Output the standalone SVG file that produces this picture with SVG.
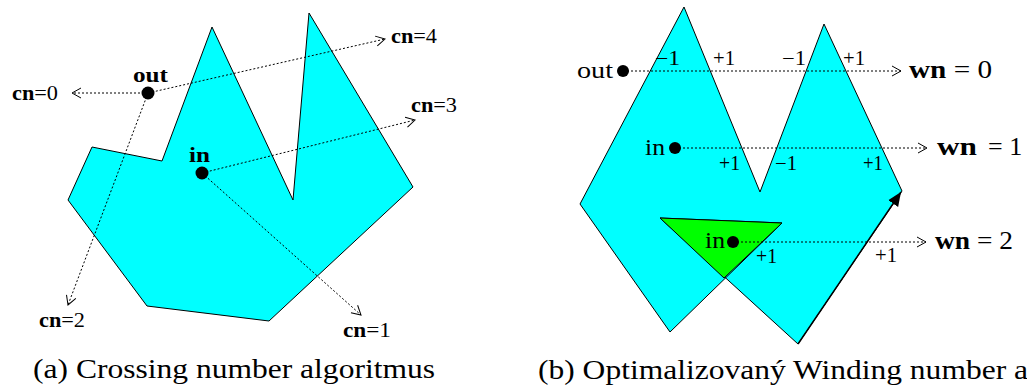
<svg xmlns="http://www.w3.org/2000/svg" width="1027" height="391" viewBox="0 0 1027 391" font-family="'Liberation Serif', serif">
<style>
.poly{fill:#00ffff;stroke:#000;stroke-width:1;stroke-linejoin:miter}
.tri{fill:#00ff00;stroke:#000;stroke-width:1}
.ray{stroke:#000;stroke-width:1;stroke-dasharray:2 2;fill:none;marker-end:url(#open)}
text{font-family:'Liberation Serif',serif;fill:#000}
.b{font-weight:bold}
.cap{font-size:28px}
</style>
<defs>
<marker id="open" markerUnits="userSpaceOnUse" markerWidth="14" markerHeight="14" refX="10" refY="6" orient="auto" viewBox="0 0 14 12">
<path d="M1,1 L10,6 L1,11" fill="none" stroke="#000" stroke-width="1"/>
</marker>
<marker id="solid" markerUnits="userSpaceOnUse" markerWidth="16" markerHeight="16" refX="14" refY="6" orient="auto" viewBox="0 0 16 12">
<path d="M0,0 L14,6 L0,12 Z" fill="#000"/>
</marker>
</defs>

<g id="left-polygon">
<polygon class="poly" points="162,161 212,27 293,200 309,13 413,187 269,321 147,306 68,200 92,147"/>
</g>

<g id="right-polygon">
<path class="poly" d="M580,204 L684,7 L760,192 L824,24 L902,191 L798,344 L660,218 L782,223 L670,332 Z"/>
<polygon class="tri" points="660,218 782,223 724,278"/>
<path d="M798,344 L901,192" stroke="#000" stroke-width="1.5" fill="none" marker-end="url(#solid)"/>
</g>

<g id="connectors">
<line class="ray" x1="148" y1="93" x2="72" y2="93"/>
<line class="ray" x1="148" y1="93" x2="385" y2="39"/>
<line class="ray" x1="148" y1="93" x2="68" y2="305"/>
<line class="ray" x1="202" y1="173" x2="415" y2="120"/>
<line class="ray" x1="202" y1="173" x2="361" y2="315"/>
<line class="ray" x1="623" y1="71" x2="901" y2="71"/>
<line class="ray" x1="675" y1="148" x2="927" y2="148"/>
<line class="ray" x1="733" y1="242" x2="926" y2="242"/>
</g>

<g id="left-out">
<circle cx="148" cy="93" r="6.5" fill="#000"/>
<text class="b" x="133" y="82" font-size="22" textLength="35" lengthAdjust="spacingAndGlyphs">out</text>
</g>
<g id="left-in">
<circle cx="202" cy="173" r="6.5" fill="#000"/>
<text class="b" x="189" y="162" font-size="22" textLength="21" lengthAdjust="spacingAndGlyphs">in</text>
</g>

<g id="left-labels" font-size="20">
<text x="12" y="100" textLength="46" lengthAdjust="spacingAndGlyphs"><tspan class="b">cn</tspan>=0</text>
<text x="391" y="43" textLength="46" lengthAdjust="spacingAndGlyphs"><tspan class="b">cn</tspan>=4</text>
<text x="411" y="112" textLength="46" lengthAdjust="spacingAndGlyphs"><tspan class="b">cn</tspan>=3</text>
<text x="39" y="327" textLength="46" lengthAdjust="spacingAndGlyphs"><tspan class="b">cn</tspan>=2</text>
<text x="343" y="337" textLength="48" lengthAdjust="spacingAndGlyphs"><tspan class="b">cn</tspan>=1</text>
</g>

<g id="right-out">
<circle cx="623" cy="71" r="6" fill="#000"/>
<text x="577" y="78" font-size="23" textLength="36" lengthAdjust="spacingAndGlyphs">out</text>
</g>
<g id="right-in">
<circle cx="675" cy="148" r="6" fill="#000"/>
<text x="645" y="155" font-size="23" textLength="20" lengthAdjust="spacingAndGlyphs">in</text>
</g>
<g id="right-in2">
<circle cx="733" cy="242" r="6" fill="#000"/>
<text x="705" y="248" font-size="23" textLength="20" lengthAdjust="spacingAndGlyphs">in</text>
</g>

<g id="right-crossings" font-size="20">
<text x="655" y="65" textLength="25" lengthAdjust="spacingAndGlyphs">−1</text>
<text x="713" y="65" textLength="22" lengthAdjust="spacingAndGlyphs">+1</text>
<text x="782" y="65" textLength="24" lengthAdjust="spacingAndGlyphs">−1</text>
<text x="843" y="65" textLength="22" lengthAdjust="spacingAndGlyphs">+1</text>
<text x="719" y="170" textLength="21" lengthAdjust="spacingAndGlyphs">+1</text>
<text x="775" y="170" textLength="22" lengthAdjust="spacingAndGlyphs">−1</text>
<text x="863" y="170" textLength="20" lengthAdjust="spacingAndGlyphs">+1</text>
<text x="756" y="263" textLength="21" lengthAdjust="spacingAndGlyphs">+1</text>
<text x="875" y="262" textLength="22" lengthAdjust="spacingAndGlyphs">+1</text>
</g>

<g id="right-results" font-size="26">
<text x="909" y="78" textLength="83" lengthAdjust="spacingAndGlyphs"><tspan class="b">wn</tspan> = 0</text>
<text x="937" y="155"><tspan class="b" textLength="40" lengthAdjust="spacingAndGlyphs">wn</tspan><tspan x="988">= 1</tspan></text>
<text x="935" y="249" textLength="78" lengthAdjust="spacingAndGlyphs"><tspan class="b">wn</tspan> = 2</text>
</g>

<g id="captions">
<text class="cap" x="33" y="378" textLength="402" lengthAdjust="spacingAndGlyphs">(a) Crossing number algoritmus</text>
<text class="cap" x="538" y="379" textLength="490" lengthAdjust="spacingAndGlyphs">(b) Optimalizovaný Winding number a</text>
</g>
</svg>
